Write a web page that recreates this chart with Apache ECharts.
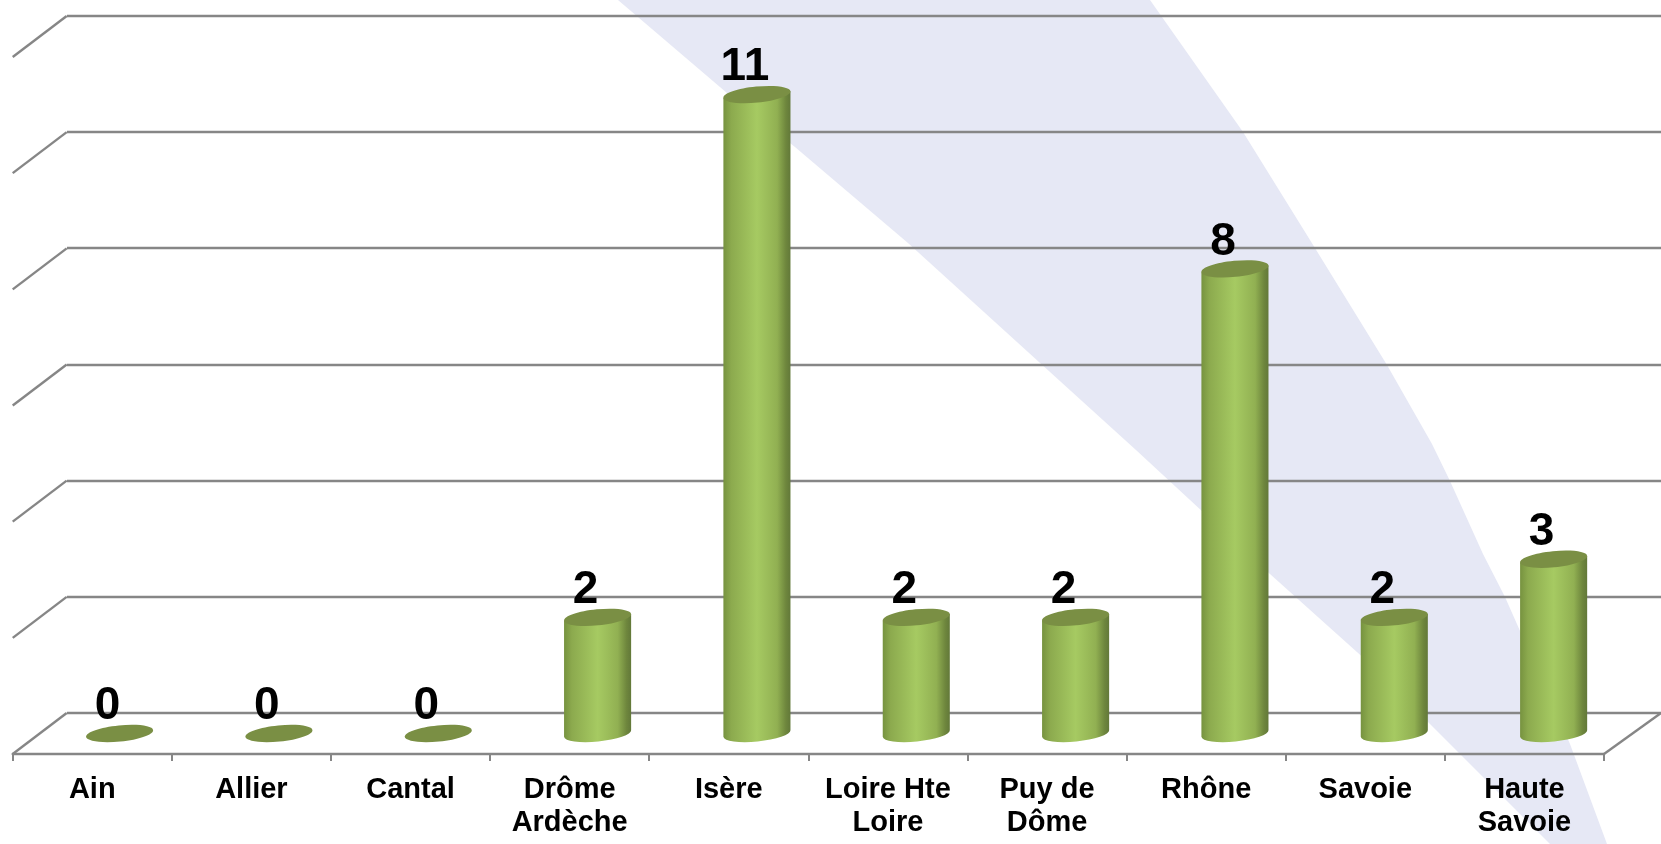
<!DOCTYPE html>
<html>
<head>
<meta charset="utf-8">
<title>Chart</title>
<style>
html, body { margin: 0; padding: 0; background: #fff; }
#chart { width: 1661px; height: 844px; }
</style>
<script src="https://cdn.jsdelivr.net/npm/echarts@6/dist/echarts.min.js"></script>
</head>
<body>
<div id="chart"></div>
<script>
const categories = ['Ain', 'Allier', 'Cantal', 'Drôme\nArdèche', 'Isère', 'Loire Hte\nLoire', 'Puy de\nDôme', 'Rhône', 'Savoie', 'Haute\nSavoie']
const values = [0, 0, 0, 2, 11, 2, 2, 8, 2, 3]
const wallTicks = [0, 2, 4, 6, 8, 10, 12]

// depth of the fake 3d floor, in px
const depthX = 54
const depthY = -41
const barShiftY = -20.5
const rx = 33.7
const ry = 8
const tilt = Math.atan(0.1)
const lineColor = '#868686'
const fontName = '"Liberation Sans", Arial, sans-serif'

const bodyColor = new echarts.graphic.LinearGradient(0, 0, 1, 0, [
  { offset: 0, color: '#76923F' },
  { offset: 0.12, color: '#8CAA4E' },
  { offset: 0.5, color: '#A6CA62' },
  { offset: 0.8, color: '#91B052' },
  { offset: 0.93, color: '#6E863D' },
  { offset: 1, color: '#627839' }
])

function renderCylinder (params, api) {
  const top = api.coord([api.value(0), api.value(1)])
  const base = api.coord([api.value(0), 0])
  const cx = top[0]
  const topY = top[1] + barShiftY
  const baseY = base[1] + barShiftY
  const w = rx * Math.cos(tilt)
  const h = rx * Math.sin(tilt)
  const children = []
  if (api.value(1) > 0) {
    const deg = -tilt * 180 / Math.PI
    children.push({
      type: 'path',
      shape: {
        pathData: `M${cx - w} ${topY + h}L${cx - w} ${baseY + h}A${rx} ${ry} ${deg} 0 0 ${cx + w} ${baseY - h}L${cx + w} ${topY - h}Z`
      },
      style: { fill: bodyColor }
    })
  }
  children.push({
    type: 'ellipse',
    shape: { cx: 0, cy: 0, rx: rx, ry: ry },
    x: cx,
    y: topY,
    rotation: tilt,
    style: { fill: '#7A8F44' }
  })
  children.push({
    type: 'text',
    x: cx - 12,
    y: topY - 27,
    style: {
      text: String(api.value(1)),
      fontSize: 46,
      fontWeight: 'bold',
      fontFamily: fontName,
      fill: '#000',
      align: 'center',
      verticalAlign: 'middle'
    }
  })
  return { type: 'group', children: children }
}

function renderSideLine (params, api) {
  const sys = params.coordSys
  const y = api.coord([0, api.value(0)])[1]
  const lineStyle = { stroke: lineColor, lineWidth: 2.4 }
  const children = [{
    type: 'line',
    shape: { x1: sys.x, y1: y, x2: sys.x + depthX, y2: y + depthY },
    style: lineStyle
  }]
  if (api.value(0) === 0) {
    // right edge of the floor
    children.push({
      type: 'line',
      shape: { x1: sys.x + sys.width, y1: y, x2: sys.x + sys.width + 57, y2: y + depthY },
      style: lineStyle
    })
  }
  return { type: 'group', children: children }
}

const chart = echarts.init(document.getElementById('chart'))
chart.setOption({
  animation: false,
  backgroundColor: '#fff',
  graphic: [{
    // pale band behind the plot
    type: 'polygon',
    z: -10,
    shape: {
      points: [
        [618, 0], [1150, 0], [1243, 132], [1310, 240], [1387, 365], [1432, 444], [1450, 481],
        [1483, 554], [1505, 597], [1570, 744], [1607, 844], [1550, 844], [1507, 801],
        [1460, 754], [1367, 661], [1270, 574], [1136, 450], [1039, 362], [908, 243], [795, 147], [727, 93]
      ]
    },
    style: { fill: '#E6E8F5' }
  }],
  grid: [
    { left: 12.7, right: 57, top: 57, bottom: 90 },
    { left: 67, right: 0, top: 16, bottom: 131.4 },
    // cylinders stand mid-depth on the floor, a little wider spaced than the ticks
    { left: 39.9, right: 27.7, top: 57, bottom: 90 }
  ],
  xAxis: [
    {
      type: 'category',
      gridIndex: 0,
      data: categories,
      axisLine: { lineStyle: { color: lineColor, width: 2.4 } },
      axisTick: { show: true, length: 7, lineStyle: { color: lineColor, width: 2 } },
      axisLabel: {
        interval: 0,
        margin: 19,
        fontSize: 29,
        fontWeight: 'bold',
        fontFamily: fontName,
        color: '#000',
        lineHeight: 33
      }
    },
    { type: 'value', gridIndex: 1, show: false, min: 0, max: 1 },
    { type: 'category', gridIndex: 2, show: false, data: categories }
  ],
  yAxis: [
    { type: 'value', gridIndex: 0, min: 0, max: 12, interval: 2, axisLabel: { show: false }, axisLine: { show: false }, axisTick: { show: false }, splitLine: { show: false } },
    {
      type: 'value',
      gridIndex: 1,
      min: 0,
      max: 12,
      interval: 2,
      axisLabel: { show: false },
      axisLine: { show: false },
      axisTick: { show: false },
      splitLine: { show: true, lineStyle: { color: lineColor, width: 2.4 } }
    },
    { type: 'value', gridIndex: 2, show: false, min: 0, max: 12, interval: 2, splitLine: { show: false } }
  ],
  series: [
    {
      type: 'custom',
      name: 'side',
      xAxisIndex: 0,
      yAxisIndex: 0,
      silent: true,
      z: 1,
      encode: { y: 0 },
      data: wallTicks.map(v => [v]),
      renderItem: renderSideLine
    },
    {
      type: 'custom',
      name: 'values',
      xAxisIndex: 2,
      yAxisIndex: 2,
      z: 3,
      encode: { x: 0, y: 1 },
      data: values.map((v, i) => [i, v]),
      renderItem: renderCylinder
    }
  ]
})
</script>
</body>
</html>
